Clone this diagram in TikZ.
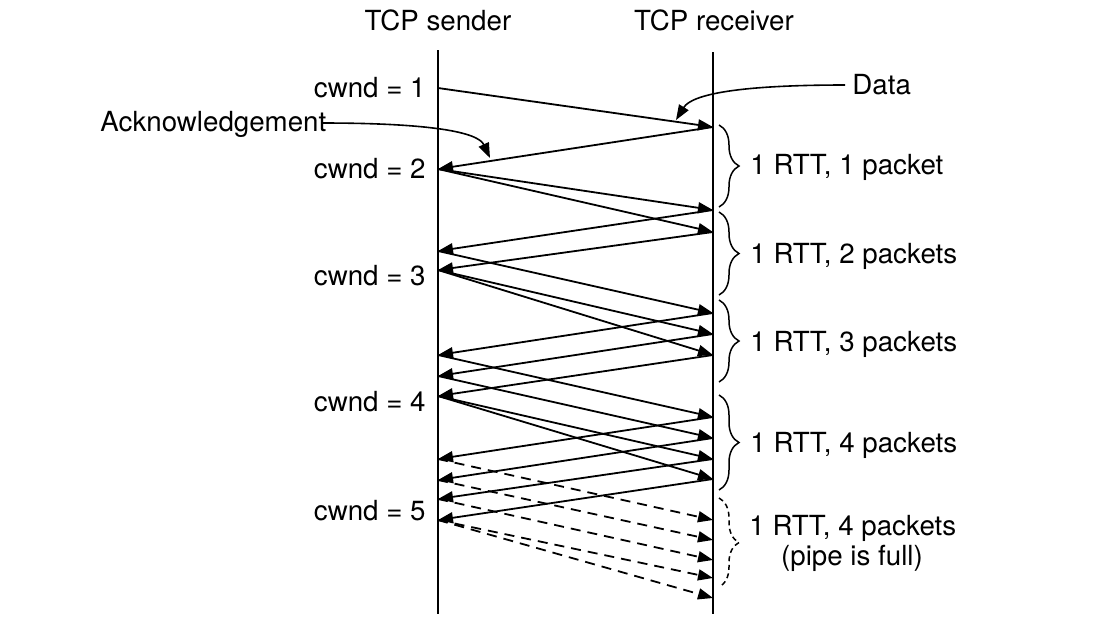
\documentclass[tikz,border=0pt]{standalone}
\usepackage{fontspec}
\setmainfont{TeX Gyre Heros}
\usetikzlibrary{arrows.meta,decorations.pathreplacing}
\begin{document}
\begin{tikzpicture}[x=0.5pt,y=-0.5pt,
  font=\fontsize{13.85}{16.5}\selectfont,
  life/.style={line width=1pt},
  msg/.style={line width=0.9pt,-{Triangle[length=7.5pt,width=5.5pt]}},
  dmsg/.style={msg,dash pattern=on 5pt off 3.5pt},
  rtt/.style={decorate,decoration={brace,amplitude=10pt},line width=0.75pt},
  drtt/.style={rtt,dash pattern=on 2.5pt off 1.8pt},
  lbl/.style={inner sep=0pt},
  callout/.style={line width=0.8pt,-{Triangle[length=7.5pt,width=5.5pt]}}]
\useasboundingbox (0,0) rectangle (1109,639);

% headers
\node[lbl,anchor=base] (hs) at (438,30) {TCP sender};
\node[lbl,anchor=base] (hr) at (714,30) {TCP receiver};

% lifelines
\coordinate (stop) at (438,50); \coordinate (sbot) at (438,614);
\coordinate (rtop) at (713,52); \coordinate (rbot) at (713,614);
\draw[life] (stop) -- (sbot);
\draw[life] (rtop) -- (rbot);

% sender events
\foreach \n/\y in {s1/88,a1/169,a2/251,a3/270,a4/355,a5/376,a6/396,a7/459,a8/480,a9/499,a10/520}
  \coordinate (\n) at (438,\y);
% receiver events
\foreach \n/\y in {r1/127,r2/210,r3/232,r4/313,r5/334,r6/355,r7/417,r8/438,r9/459,r10/479,d1/520,d2/540,d3/560,d4/578,d5/598}
  \coordinate (\n) at (713,\y);

% round 1
\draw[msg] (s1) -- (r1);
\draw[msg] (r1) -- (a1);
% round 2
\draw[msg] (a1) -- (r2);
\draw[msg] (a1) -- (r3);
\draw[msg] (r2) -- (a2);
\draw[msg] (r3) -- (a3);
% round 3
\draw[msg] (a2) -- (r4);
\draw[msg] (a3) -- (r5);
\draw[msg] (a3) -- (r6);
\draw[msg] (r4) -- (a4);
\draw[msg] (r5) -- (a5);
\draw[msg] (r6) -- (a6);
% round 4
\draw[msg] (a4) -- (r7);
\draw[msg] (a5) -- (r8);
\draw[msg] (a6) -- (r9);
\draw[msg] (a6) -- (r10);
\draw[msg] (r7) -- (a7);
\draw[msg] (r8) -- (a8);
\draw[msg] (r9) -- (a9);
\draw[msg] (r10) -- (a10);
% round 5 (dashed)
\draw[dmsg] (a7) -- (d1);
\draw[dmsg] (a8) -- (d2);
\draw[dmsg] (a9) -- (d3);
\draw[dmsg] (a10) -- (d4);
\draw[dmsg] (a10) -- (d5);

% cwnd labels
\node[lbl,anchor=base east] (c1) at (426,97) {cwnd = 1};
\node[lbl,anchor=base east] (c2) at (426,178) {cwnd = 2};
\node[lbl,anchor=base east] (c3) at (426,285) {cwnd = 3};
\node[lbl,anchor=base east] (c4) at (426,411) {cwnd = 4};
\node[lbl,anchor=base east] (c5) at (426,520) {cwnd = 5};

% callouts
\node[lbl,anchor=base west] (ack) at (100,131) {Acknowledgement};
\coordinate (ackfrom) at (322,123);
\coordinate (ackto) at (490,158);
\draw[callout] (ackfrom) .. controls (430,123) and (478,132) .. (ackto);

\node[lbl,anchor=base west] (data) at (852,94) {Data};
\coordinate (datafrom) at (845,85);
\coordinate (datato) at (676,120);
\draw[callout] (datafrom) .. controls (740,85) and (692,94) .. (datato);

% braces
\coordinate (b1t) at (719,125); \coordinate (b1b) at (719,207);
\coordinate (b2t) at (719,212); \coordinate (b2b) at (719,295);
\coordinate (b3t) at (719,300); \coordinate (b3b) at (719,382);
\coordinate (b4t) at (719,395); \coordinate (b4b) at (719,490);
\coordinate (b5t) at (719,498); \coordinate (b5b) at (719,587);
\draw[rtt] (b1t) -- (b1b);
\draw[rtt] (b2t) -- (b2b);
\draw[rtt] (b3t) -- (b3b);
\draw[rtt] (b4t) -- (b4b);
\draw[drtt] (b5t) -- (b5b);

\node[lbl,anchor=base west] (t1) at (750,174) {1 RTT, 1 packet};
\node[lbl,anchor=base west] (t2) at (750,263) {1 RTT, 2 packets};
\node[lbl,anchor=base west] (t3) at (750,351) {1 RTT, 3 packets};
\node[lbl,anchor=base west] (t4) at (750,452) {1 RTT, 4 packets};
\node[lbl,anchor=base west] (t5) at (749,535) {1 RTT, 4 packets};
\node[lbl,anchor=base] (t6) at (852,565) {(pipe is full)};
\end{tikzpicture}
\end{document}
